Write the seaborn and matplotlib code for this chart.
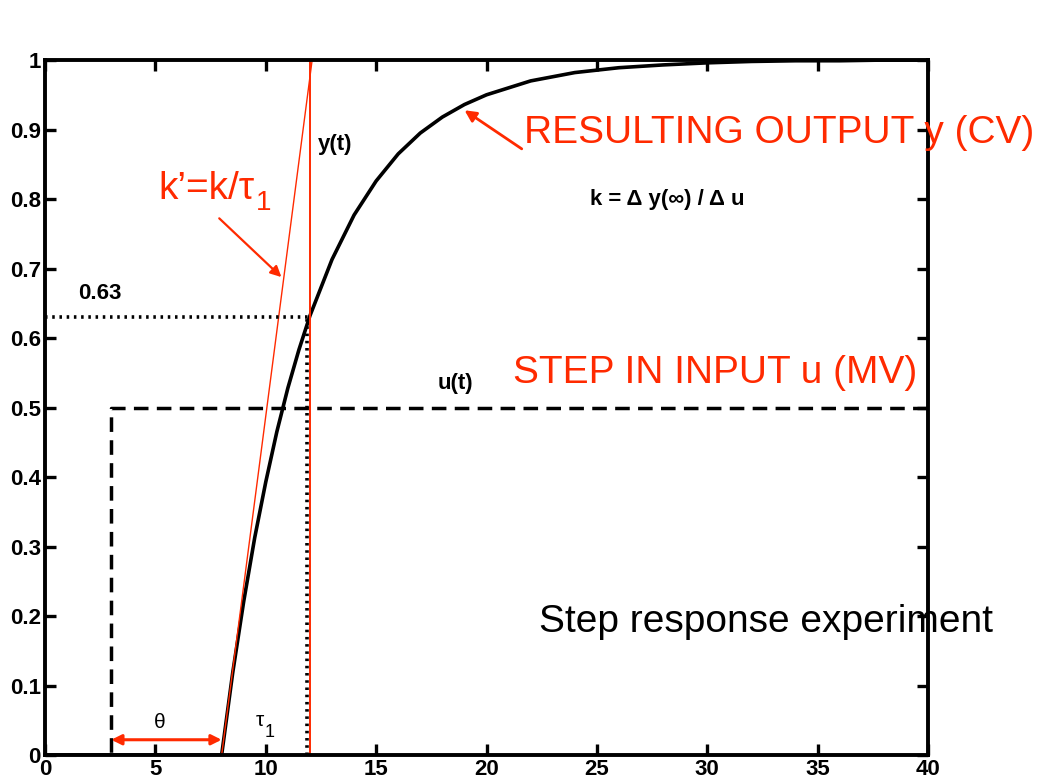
import matplotlib
matplotlib.use("Agg")
import matplotlib.pyplot as plt
import seaborn as sns
import pandas as pd

# ---- data ----
t_out = [0, 8, 8.5, 9, 9.5, 10, 10.5, 11, 11.5, 12, 13, 14, 15, 16, 17, 18, 19,
         20, 22, 24, 26, 28, 30, 32, 34, 36, 38, 40]
y_out = [0, 0, 0.118, 0.221, 0.313, 0.393, 0.465, 0.528, 0.583, 0.632, 0.713, 0.777,
         0.826, 0.865, 0.895, 0.918, 0.936, 0.950, 0.970, 0.982, 0.989, 0.993, 0.996,
         0.998, 0.999, 0.999, 1.0, 1.0]
t_in = [0, 3, 3, 40]
u_in = [0, 0, 0.5, 0.5]
tangent_t = [8, 12.1]
tangent_y = [0, 1.0]
tau_t = 12
level_63 = 0.63
step_t = 3
dead_end = 8

x_ticks = [0, 5, 10, 15, 20, 25, 30, 35, 40]
y_ticks = [0, 0.1, 0.2, 0.3, 0.4, 0.5, 0.6, 0.7, 0.8, 0.9, 1]
y_tick_labels = ["0", "0.1", "0.2", "0.3", "0.4", "0.5", "0.6", "0.7", "0.8", "0.9", "1"]

sns.set_style("white")
plt.rcParams['font.family'] = ['Liberation Sans', 'DejaVu Sans']
plt.rcParams['text.color'] = 'black'
plt.rcParams['xtick.color'] = 'black'
plt.rcParams['ytick.color'] = 'black'
plt.rcParams['xtick.labelcolor'] = 'black'
plt.rcParams['ytick.labelcolor'] = 'black'

RED = "#ff2a00"

fig = plt.figure(figsize=(10.38, 7.80), dpi=100)
ax = fig.add_axes([0.0434, 0.032, 0.8506, 0.891])

df_out = pd.DataFrame({"t": t_out, "y": y_out})
df_in = pd.DataFrame({"t": t_in, "u": u_in})

sns.lineplot(data=df_in, x="t", y="u", ax=ax, color="black", lw=2.5,
             linestyle=(0, (4.2, 2.4)), sort=False, estimator=None)
sns.lineplot(data=df_out, x="t", y="y", ax=ax, color="black", lw=2.6,
             sort=False, estimator=None)
ax.plot(tangent_t, tangent_y, color=RED, lw=1.0)
ax.plot([tau_t, tau_t], [0, 1], color=RED, lw=1.4)
ax.plot([0, tau_t], [level_63, level_63], color="black", lw=2.6,
        linestyle=(0, (0.7, 1.3)))
ax.plot([tau_t - 0.12, tau_t - 0.12], [0, level_63], color="black", lw=2.6,
        linestyle=(0, (0.7, 1.3)))

# theta double arrow
ax.annotate("", xy=(step_t, 0.022), xytext=(dead_end, 0.022),
            arrowprops=dict(arrowstyle="<|-|>", color=RED, lw=2.2,
                            mutation_scale=15, shrinkA=0, shrinkB=0))
ax.text(5.2, 0.047, "θ", fontsize=15, ha="center", va="center", color="black")
t_tau = ax.text(9.75, 0.05, "τ", fontsize=15, ha="center", va="center", color="black")
ax.annotate("1", xy=(1.0, 0.0), xycoords=t_tau, xytext=(0, -2),
            textcoords="offset points", fontsize=13, ha="left", va="center",
            color="black")

ax.text(2.5, 0.664, "0.63", fontsize=16, fontweight="bold", ha="center", va="center",
        color="black")
ax.text(12.35, 0.878, "y(t)", fontsize=16, fontweight="bold", ha="left", va="center",
        color="black")
t_k = ax.text(5.15, 0.815, "k’=k/τ", fontsize=28, color=RED, ha="left", va="center")
ax.annotate("1", xy=(1.0, 0.1), xycoords=t_k, xytext=(1, 0),
            textcoords="offset points", fontsize=20, color=RED, ha="left", va="center")
ax.annotate("", xy=(10.8, 0.685), xytext=(7.8, 0.775),
            arrowprops=dict(arrowstyle="-|>", color=RED, lw=1.6, mutation_scale=16))

ax.text(21.7, 0.895, "RESULTING OUTPUT y (CV)", fontsize=28, color=RED,
        ha="left", va="center", clip_on=False)
ax.annotate("", xy=(18.9, 0.93), xytext=(21.7, 0.87),
            arrowprops=dict(arrowstyle="-|>", color=RED, lw=2.0, mutation_scale=17))
ax.text(24.7, 0.80, "k = Δ y(∞) / Δ u", fontsize=16, fontweight="bold",
        ha="left", va="center", color="black")
ax.text(21.2, 0.55, "STEP IN INPUT u (MV)", fontsize=28, color=RED,
        ha="left", va="center", clip_on=False)
ax.text(17.8, 0.535, "u(t)", fontsize=16, fontweight="bold", ha="left", va="center",
        color="black")
ax.text(22.4, 0.192, "Step response experiment", fontsize=28, ha="left", va="center",
        color="black")

ax.set_xlim(0, 40)
ax.set_ylim(0, 1)
ax.set_xticks(x_ticks)
ax.set_yticks(y_ticks)
ax.set_xticklabels([str(v) for v in x_ticks], fontsize=16, fontweight="bold")
ax.set_yticklabels(y_tick_labels, fontsize=16, fontweight="bold")
ax.set_xlabel("")
ax.set_ylabel("")
ax.tick_params(direction="in", length=8, width=2.4, top=True, right=True,
               bottom=True, left=True, pad=3, colors="black")
for s in ax.spines.values():
    s.set_visible(True)
    s.set_color("black")
    s.set_linewidth(2.8)

fig.savefig("out.png", dpi=100, facecolor="white")
